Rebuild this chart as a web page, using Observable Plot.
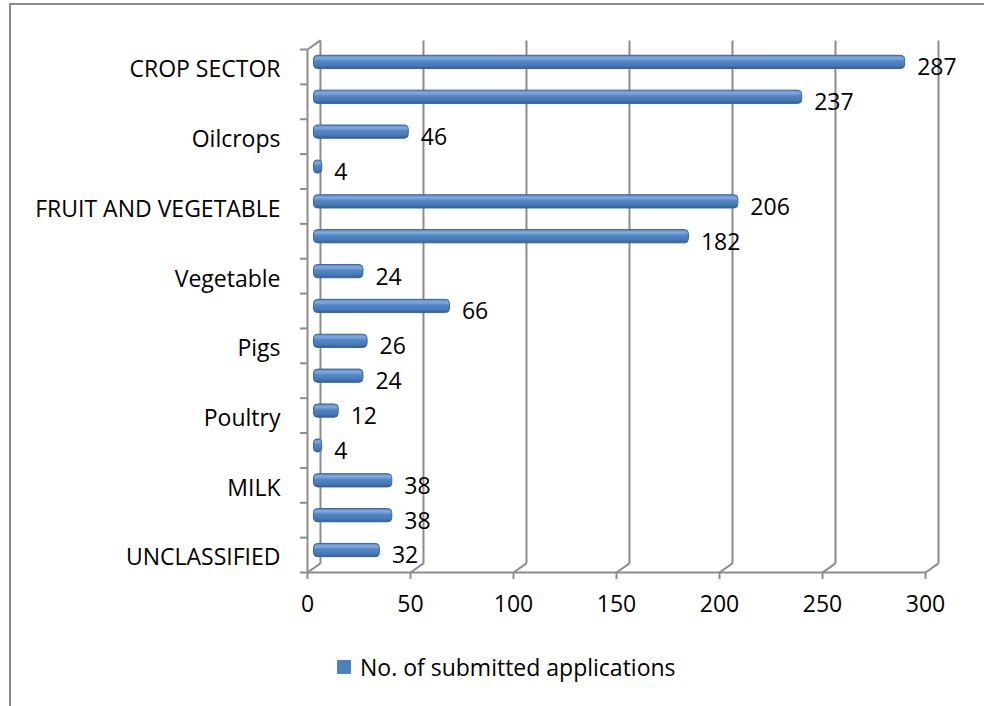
<!DOCTYPE html>
<html><head><meta charset="utf-8">
<script src="https://cdn.jsdelivr.net/npm/d3@7"></script>
<script src="https://cdn.jsdelivr.net/npm/@observablehq/plot@0.6"></script>
<style>
html,body{margin:0;padding:0;background:#fff;overflow:hidden;width:984px;height:706px;}
#chart svg{display:block;}
#frame{position:absolute;left:9px;top:3px;width:1200px;height:900px;border-top:2px solid #8a8a8a;border-left:2px solid #8a8a8a;pointer-events:none;}
#legend{margin-top:13px;padding-left:337px;height:28px;display:flex;align-items:center;font-family:"Open Sans",sans-serif;font-size:23px;color:#000;}
#legend .sw{display:inline-block;width:14px;height:14px;background:#4f81bd;margin-right:9px;}
</style></head><body>
<div id="chart"></div>
<div id="legend"><span class="sw"></span><span id="legendText"></span></div>
<div id="frame"></div>
<script>
const categories = ["CROP SECTOR","","Oilcrops","","FRUIT AND VEGETABLE","","Vegetable","","Pigs","","Poultry","","MILK","","UNCLASSIFIED"];
const values = [287,237,46,4,206,182,24,66,26,24,12,4,38,38,32];
const xTicks = [0,50,100,150,200,250,300];
const seriesName = "No. of submitted applications";

const rows = categories.map((c, i) => ({i, category: c, value: values[i]}));
const n = categories.length;
// 3D depth of the back wall, in data units (x: value units, y: rows)
const DX = 6.3, DY = 0.26, HALF = 0.19;
const gray = "#8c8c8c";
const font = "'Open Sans', sans-serif";

const plot = Plot.plot({
  width: 984,
  height: 640,
  marginLeft: 307,
  marginRight: 59,
  marginTop: 49,
  marginBottom: 68,
  style: {fontFamily: font, fontSize: "23px", color: "#000", background: "transparent"},
  x: {domain: [0, 300], label: null},
  y: {domain: [0, n], reverse: true, label: null},
  marks: [
    Plot.link(xTicks, {x1: d => d + DX, x2: d => d + DX, y1: -DY, y2: n - DY, stroke: gray, strokeWidth: 2}),
    Plot.link(xTicks, {x1: d => d, x2: d => d + DX, y1: n, y2: n - DY, stroke: gray, strokeWidth: 2}),
    Plot.link([0], {x1: 0, x2: 300, y1: n, y2: n, stroke: gray, strokeWidth: 2}),
    Plot.link([0], {x1: 0, x2: 0, y1: 0, y2: n, stroke: gray, strokeWidth: 2}),
    Plot.link([0], {x1: 0, x2: DX, y1: 0, y2: -DY, stroke: gray, strokeWidth: 2}),
    Plot.axisY(d3.range(0, n + 1), {tickSize: 7, tickFormat: () => "", stroke: gray, strokeWidth: 2}),
    Plot.axisY(d3.range(0, n, 2).map(i => i + 0.5), {tickSize: 0, tickPadding: 27, tickFormat: v => categories[Math.floor(v)], fill: "#000", dy: 3}),
    Plot.axisX(xTicks, {tickSize: 7, tickPadding: 16, stroke: gray, strokeWidth: 2, fill: "#000"}),
    Plot.rect(rows, {
      x1: DX / 2, x2: d => d.value + DX / 2,
      y1: d => d.i + 0.5 - DY / 2 - HALF, y2: d => d.i + 0.5 - DY / 2 + HALF,
      fill: "url(#barGrad)", stroke: "#3a659c", strokeWidth: 1, rx: 4
    }),
    Plot.text(rows, {x: d => d.value + DX / 2, y: d => d.i + 0.5, text: d => String(d.value), textAnchor: "start", dx: 12, dy: 1, fill: "#000", fontSize: 23})
  ]
});

const defs = d3.select(plot).insert("defs", ":first-child");
const g = defs.append("linearGradient").attr("id", "barGrad").attr("x1", 0).attr("y1", 0).attr("x2", 0).attr("y2", 1);
[["0%", "#5a8bcb"], ["22%", "#80aae0"], ["45%", "#5486c4"], ["80%", "#4677b4"], ["100%", "#35598a"]]
  .forEach(([o, c]) => g.append("stop").attr("offset", o).attr("stop-color", c));

document.getElementById("chart").appendChild(plot);
document.getElementById("legendText").textContent = seriesName;
</script>
</body></html>
